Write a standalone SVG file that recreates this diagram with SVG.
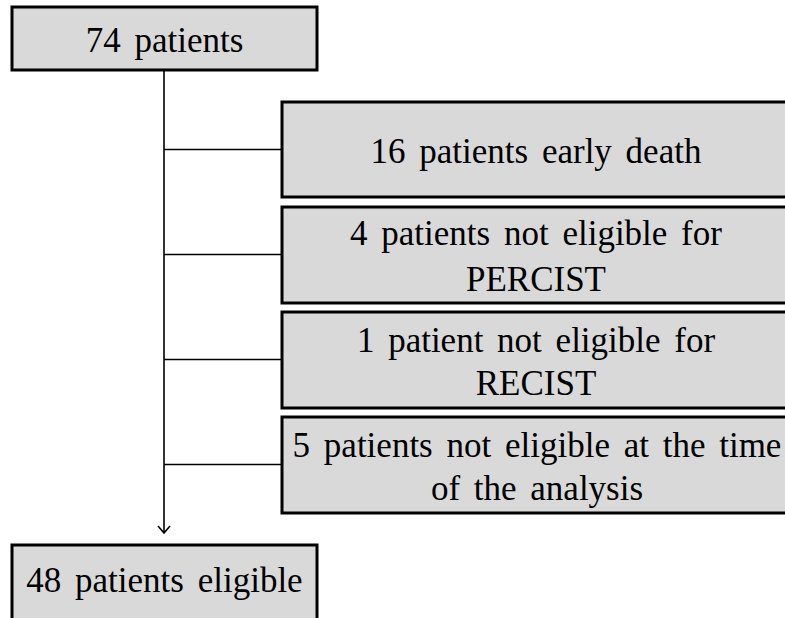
<svg xmlns="http://www.w3.org/2000/svg" width="785" height="618" viewBox="0 0 785 618">
<style>
.box{fill:#d9d9d9;stroke:#000;stroke-width:3}
.t{font-family:"Liberation Serif","Times New Roman",serif;font-size:35px;fill:#000;text-anchor:middle;word-spacing:5px}
.c{stroke:#000;stroke-width:1.6;fill:none}
</style>
<rect width="785" height="618" fill="#fff"/>
<g id="connectors">
<line class="c" x1="164" y1="70" x2="164" y2="533"/>
<polyline class="c" points="158,526 164,533 170,526"/>
<line class="c" x1="164" y1="149.5" x2="282" y2="149.5"/>
<line class="c" x1="164" y1="254.5" x2="282" y2="254.5"/>
<line class="c" x1="164" y1="359.5" x2="282" y2="359.5"/>
<line class="c" x1="164" y1="464.5" x2="282" y2="464.5"/>
</g>
<g id="n74">
<rect class="box" x="12" y="7" width="305" height="63"/>
<text class="t" x="164.5" y="52">74 patients</text>
</g>
<g id="n16">
<rect class="box" x="282" y="102" width="510" height="95"/>
<text class="t" x="536" y="163">16 patients early death</text>
</g>
<g id="n4">
<rect class="box" x="282" y="207" width="510" height="96"/>
<text class="t" x="536" y="245">4 patients not eligible for</text>
<text class="t" x="536" y="291">PERCIST</text>
</g>
<g id="n1">
<rect class="box" x="282" y="312" width="510" height="96"/>
<text class="t" x="536" y="352">1 patient not eligible for</text>
<text class="t" x="536" y="395">RECIST</text>
</g>
<g id="n5">
<rect class="box" x="282" y="417" width="510" height="96"/>
<text class="t" x="537" y="457">5 patients not eligible at the time</text>
<text class="t" x="537" y="500">of the analysis</text>
</g>
<g id="n48">
<rect class="box" x="12" y="545" width="305" height="90"/>
<text class="t" x="164.5" y="592">48 patients eligible</text>
</g>
</svg>
